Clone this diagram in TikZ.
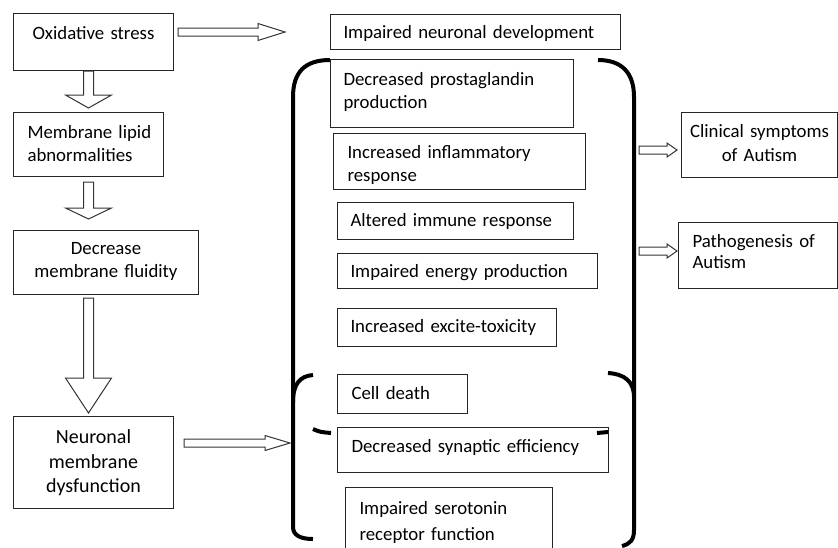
\documentclass[tikz,border=0pt]{standalone}
\usepackage{fontspec}
\setmainfont{Carlito}
\usepackage{tikz}
\usetikzlibrary{calc}

\begin{document}
\begin{tikzpicture}[x=0.5pt, y=-0.5pt,
  box/.style={draw=black!85, line width=0.5pt, anchor=north west, inner ysep=0pt, inner xsep=6.5pt, align=left, font=\fontsize{9.4}{11.5}\selectfont},
  brace/.style={line width=2pt},
  hollow/.style={draw=black!80, fill=white, line width=0.5pt},
  shaftw/.store in=\shaftw, headw/.store in=\headw, tipl/.store in=\tipl,
  gapa/.store in=\gapa, gapb/.store in=\gapb,
  shaftw=4, headw=8, tipl=12, gapa=0, gapb=0,
  darrow/.style={to path={
    ($(\tikztostart)+(-\shaftw,\gapa)$) -- ($(\tikztotarget)+(-\shaftw,-\gapb-\tipl)$)
    -- ($(\tikztotarget)+(-\headw,-\gapb-\tipl)$) -- ($(\tikztotarget)+(0,-\gapb)$)
    -- ($(\tikztotarget)+(\headw,-\gapb-\tipl)$) -- ($(\tikztotarget)+(\shaftw,-\gapb-\tipl)$)
    -- ($(\tikztostart)+(\shaftw,\gapa)$) -- cycle}},
  rarrow/.style={to path={
    ($(\tikztostart)+(\gapa,-\shaftw)$) -- ($(\tikztotarget)+(-\gapb-\tipl,-\shaftw)$)
    -- ($(\tikztotarget)+(-\gapb-\tipl,-\headw)$) -- ($(\tikztotarget)+(-\gapb,0)$)
    -- ($(\tikztotarget)+(-\gapb-\tipl,\headw)$) -- ($(\tikztotarget)+(-\gapb-\tipl,\shaftw)$)
    -- ($(\tikztostart)+(\gapa,\shaftw)$) -- cycle}}]
  \useasboundingbox (0,0) rectangle (838,547);

  % left column
  \node[box, align=center, inner xsep=4pt, text width=72pt, text height=13pt, text depth=15.5pt] (ox) at (13,13) {Oxidative stress};
  \node[box, inner xsep=7pt, text width=61pt, text height=13pt, text depth=19pt] (ml) at (13,112) {Membrane~lipid\\abnormalities};
  \node[box, align=center, inner xsep=4pt, text width=84.5pt, text height=12pt, text depth=20pt] (dm) at (13,230) {Decrease\\membrane~fluidity};
  \node[box, align=center, inner xsep=4pt, text width=72pt, text height=13.5pt, text depth=32.5pt, font=\fontsize{10}{12.25}\selectfont] (nd) at (13,416) {Neuronal\\membrane\\dysfunction};

  % middle column
  \node[box, text width=132pt, text height=12pt, text depth=5.5pt] (ind) at (330,14) {Impaired neuronal development};
  \node[box, text width=108.5pt, text height=13pt, text depth=21pt] (dp) at (330,59) {Decreased~prostaglandin\\production};
  \node[box, inner xsep=7pt, text width=112pt, text height=12.5pt, text depth=15.5pt] (ir) at (333,133) {Increased~inflammatory\\response};
  \node[box, text width=105pt, text height=12pt, text depth=6.5pt] (ai) at (337,202) {Altered immune response};
  \node[box, text width=117pt, text height=12pt, text depth=5.5pt] (ie) at (337,253) {Impaired energy production};
  \node[box, text width=96.5pt, text height=12pt, text depth=7pt] (et) at (337,308) {Increased excite-toxicity};
  \node[box, inner xsep=7pt, text width=51pt, text height=12.5pt, text depth=7pt] (cd) at (337,374) {Cell death};
  \node[box, inner xsep=7pt, text width=121.5pt, text height=12.5pt, text depth=10pt] (ds) at (337,427) {Decreased synaptic efficiency};
  \node[box, inner xsep=7pt, text width=89.5pt, text height=13.5pt, text depth=23pt, font=\fontsize{9.4}{13}\selectfont] (is) at (345,487) {Impaired~serotonin\\receptor~function};

  % right column
  \node[box, align=center, inner xsep=3pt, text width=72pt, text height=12.5pt, text depth=20pt, font=\fontsize{9.4}{12}\selectfont] (cs) at (681,112) {Clinical~symptoms\\of Autism};
  \node[box, inner xsep=7pt, text width=65.5pt, text height=12.5pt, text depth=20.5pt, font=\fontsize{9.4}{10.5}\selectfont] (pa) at (678,222) {Pathogenesis~of\\Autism};

  % brackets
  \draw[brace] (330,60) .. controls (305,60) and (293,72) .. (293,97) -- (293,527) .. controls (293,535) and (300,539) .. (313,539);
  \draw[brace] (313,375) .. controls (300,376) and (293,384) .. (293,402);
  \draw[brace] (313,429) .. controls (320,432) .. (331,433);
  \draw[brace] (598,60) .. controls (622,60) and (634,73) .. (634,97) -- (634,530) .. controls (634,540) and (630,544) .. (622,546);
  \draw[brace] (608,373) .. controls (624,374) and (634,381) .. (634,397);
  \draw[brace] (597,433) -- (608,432);

  \coordinate (brl) at (293,443);
  \coordinate (brr1) at (634,150);
  \coordinate (brr2) at (634,251);

  % block arrows
  \draw[hollow, shaftw=4, headw=8.5, tipl=27, gapa=4, gapb=45] (ox.east |- ind.west) to[rarrow] (ind.west);
  \draw[hollow, shaftw=5, headw=23, tipl=13, gapb=4] (ml.north |- ox.south) to[darrow] (ml.north);
  \draw[hollow, shaftw=5, headw=23, tipl=11, gapa=5, gapb=11] (ml.south) to[darrow] (ml.south |- dm.north);
  \draw[hollow, shaftw=5, headw=23, tipl=35, gapa=3, gapb=3] (ml.south |- dm.south) to[darrow] (ml.south |- nd.north);
  \draw[hollow, shaftw=4, headw=7.5, tipl=25, gapa=10, gapb=3] (nd.east |- brl) to[rarrow] (brl);
  \draw[hollow, shaftw=4, headw=7, tipl=10, gapa=5, gapb=4] (brr1) to[rarrow] (cs.west |- brr1);
  \draw[hollow, shaftw=4, headw=7, tipl=10, gapa=5, gapb=1] (brr2) to[rarrow] (pa.west |- brr2);
\end{tikzpicture}
\end{document}
